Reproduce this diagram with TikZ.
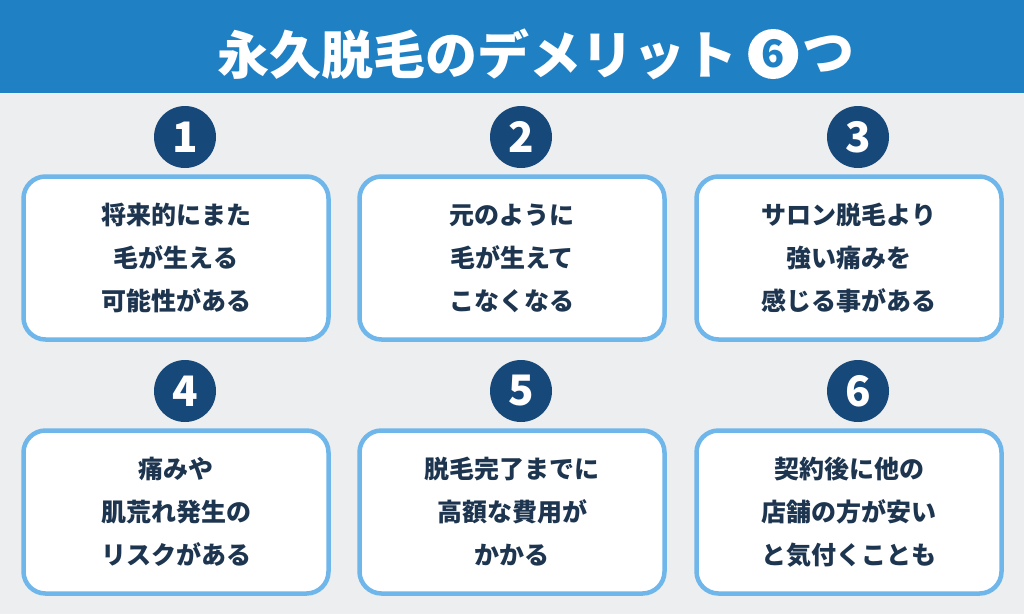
\documentclass[tikz,border=0pt]{standalone}
\usepackage{fontspec}
\newfontfamily\jp{Noto Sans CJK JP}
\usetikzlibrary{positioning}
\definecolor{barblue}{HTML}{2080C4}
\definecolor{navy}{HTML}{17487A}
\definecolor{edgeblue}{HTML}{6FB6EA}
\definecolor{bggray}{HTML}{EDEEEF}
\definecolor{txt}{HTML}{1E3550}
\tikzset{
  numdot/.style={circle,fill=navy,minimum size=62pt,inner sep=0pt,text=white,font=\jp\bfseries\fontsize{42}{42}\selectfont},
  itembox/.style={draw=edgeblue,line width=4.5pt,fill=white,rounded corners=22pt,minimum width=305pt,minimum height=163pt,align=center,text=txt,font=\jp\bfseries\fontsize{25}{43}\selectfont}
}
\begin{document}
\begin{tikzpicture}[x=1pt,y=-1pt]
\useasboundingbox (0,0) rectangle (1024,614);
\fill[bggray] (0,0) rectangle (1024,614);
\fill[barblue] (0,0) rectangle (1024,93);
\node[text=white,font=\jp\bfseries\fontsize{52}{52}\selectfont,anchor=east,inner sep=0pt] (title) at (738,54) {永久脱毛のデメリット};
\node[circle,fill=white,text=barblue,inner sep=0pt,minimum size=50pt,font=\jp\bfseries\fontsize{38}{38}\selectfont,right=10pt of title] (six) {6};
\node[text=white,font=\jp\bfseries\fontsize{52}{52}\selectfont,right=4pt of six,inner sep=0pt] (tsu) {つ};
\foreach \t [count=\n] in {{将来的にまた\\毛が生える\\可能性がある},{元のように\\毛が生えて\\こなくなる},{サロン脱毛より\\強い痛みを\\感じる事がある},{痛みや\\肌荒れ発生の\\リスクがある},{脱毛完了までに\\高額な費用が\\かかる},{契約後に他の\\店舗の方が安い\\と気付くことも}}{
  \pgfmathsetmacro\cx{{176,512,849}[mod(\n-1,3)]}
  \pgfmathsetmacro\cy{\n>3 ? 512 : 258}
  \node[itembox] (box\n) at (\cx,\cy) {\t};
  \node[numdot] (num\n) at (\cx+9,\cy-121) {\n};
}
\end{tikzpicture}
\end{document}
